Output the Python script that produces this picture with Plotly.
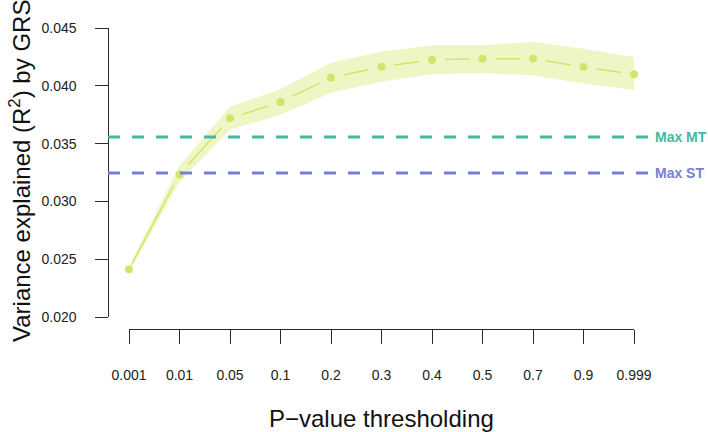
import plotly.graph_objects as go

# ---- data ----
thresholds = ["0.001", "0.01", "0.05", "0.1", "0.2", "0.3", "0.4", "0.5", "0.7", "0.9", "0.999"]
r2 = [0.02415, 0.03235, 0.0372, 0.0386, 0.0407, 0.04165, 0.04225, 0.04235, 0.04235, 0.04163, 0.0410]
r2_upper = [0.0244, 0.0331, 0.0382, 0.0397, 0.0420, 0.04295, 0.0435, 0.0435, 0.0438, 0.0432, 0.04247]
r2_lower = [0.0239, 0.0317, 0.0362, 0.0375, 0.0394, 0.04036, 0.0410, 0.0411, 0.0409, 0.0402, 0.03964]
max_mt = 0.03557
max_st = 0.03247
y_ticks = [0.020, 0.025, 0.030, 0.035, 0.040, 0.045]

# ---- style ----
W, H = 708, 432
ML, MR, MT_, MB = 108, 74, 28, 103
PW, PH = W - ML - MR, H - MT_ - MB
x_dom0 = 21 / PW
y_dom0 = 11.7 / PH
YR = [0.020, 0.045]
XR = [1, 11]
PT_COL = "#d6e36b"
BAND_COL = "rgba(226,238,150,0.55)"
MT_COL = "#3dbba3"
ST_COL = "#7580d0"
AX_COL = "#2b2b2b"
FONT = "Liberation Sans, Arial, Helvetica, sans-serif"

xs = list(range(1, len(thresholds) + 1))

fig = go.Figure()

# confidence band
fig.add_trace(go.Scatter(x=xs, y=r2_lower, mode="lines", line=dict(width=0),
                         hoverinfo="skip", showlegend=False))
fig.add_trace(go.Scatter(x=xs, y=r2_upper, mode="lines", line=dict(width=0),
                         fill="tonexty", fillcolor=BAND_COL, hoverinfo="skip",
                         showlegend=False))

# dashed connecting segments (R type="b" look: gap near each point)
px_x = PW * (1 - x_dom0) / (XR[1] - XR[0])
px_y = PH * (1 - y_dom0) / (YR[1] - YR[0])
gap = 13
for i in range(len(xs) - 1):
    dx = (xs[i + 1] - xs[i]) * px_x
    dy = (r2[i + 1] - r2[i]) * px_y
    L = (dx ** 2 + dy ** 2) ** 0.5
    g1 = 7 if i == 0 else gap
    dash_len = max(L - g1 - gap, 1)
    fig.add_trace(go.Scatter(
        x=xs[i:i + 2], y=r2[i:i + 2], mode="lines",
        line=dict(color=PT_COL, width=1.5,
                  dash=f"0px,{g1:.1f}px,{dash_len:.1f}px,{L + 50:.1f}px"),
        hoverinfo="skip", showlegend=False))

# points
fig.add_trace(go.Scatter(x=xs, y=r2, mode="markers",
                         marker=dict(color=PT_COL, size=8),
                         cliponaxis=False, showlegend=False))

# reference lines
x_end = (650 - ML) / PW
for val, col, lab in [(max_mt, MT_COL, "Max MT"), (max_st, ST_COL, "Max ST")]:
    fig.add_shape(type="line", xref="paper", yref="y", x0=0, x1=x_end, y0=val, y1=val,
                  line=dict(color=col, width=3, dash="12px,12px"))
    fig.add_annotation(xref="paper", yref="y", x=(653 - ML) / PW, y=val, text=f"<b>{lab}</b>",
                       showarrow=False, xanchor="left", yanchor="middle",
                       font=dict(family=FONT, size=14, color=col))

# axis titles
fig.add_annotation(xref="paper", yref="paper", x=(381.5 - ML) / PW, y=(MT_ + PH - 418) / PH,
                   text="P\u2212value thresholding", showarrow=False,
                   xanchor="center", yanchor="middle",
                   font=dict(family=FONT, size=24, color="#111"))
fig.add_annotation(xref="paper", yref="paper", x=(20 - ML) / PW, y=(MT_ + PH - 171) / PH,
                   text="Variance explained (R<sup>2</sup>) by GRS", showarrow=False,
                   textangle=-90, xanchor="center", yanchor="middle",
                   font=dict(family=FONT, size=24, color="#111"))

PAD = "\u00a0" * 4  # keeps y tick labels clear of the ticks
fig.update_layout(
    width=W, height=H,
    margin=dict(l=ML, r=MR, t=MT_, b=MB, autoexpand=False),
    paper_bgcolor="white", plot_bgcolor="white",
    showlegend=False,
    font=dict(family=FONT, color="#222"),
    xaxis=dict(domain=[x_dom0, 1], range=XR, anchor="free", position=0,
               tickmode="array", tickvals=xs, ticktext=thresholds,
               showline=True, linecolor=AX_COL, linewidth=1.3,
               ticks="outside", ticklen=14, tickwidth=1.3, tickcolor=AX_COL,
               ticklabelstandoff=19, automargin=False,
               showgrid=False, zeroline=False,
               tickfont=dict(family=FONT, size=14, color="#222")),
    yaxis=dict(domain=[y_dom0, 1], range=YR, anchor="free", position=0,
               tickmode="array", tickvals=y_ticks,
               ticktext=[f"{v:.3f}{PAD}" for v in y_ticks],
               showline=True, linecolor=AX_COL, linewidth=1.3,
               ticks="outside", ticklen=13, tickwidth=1.3, tickcolor=AX_COL,
               automargin=False,
               showgrid=False, zeroline=False,
               tickfont=dict(family=FONT, size=14, color="#222")),
)

fig.write_html("out.html", config={"displayModeBar": False},
               post_script="document.body.style.margin='0px';")
